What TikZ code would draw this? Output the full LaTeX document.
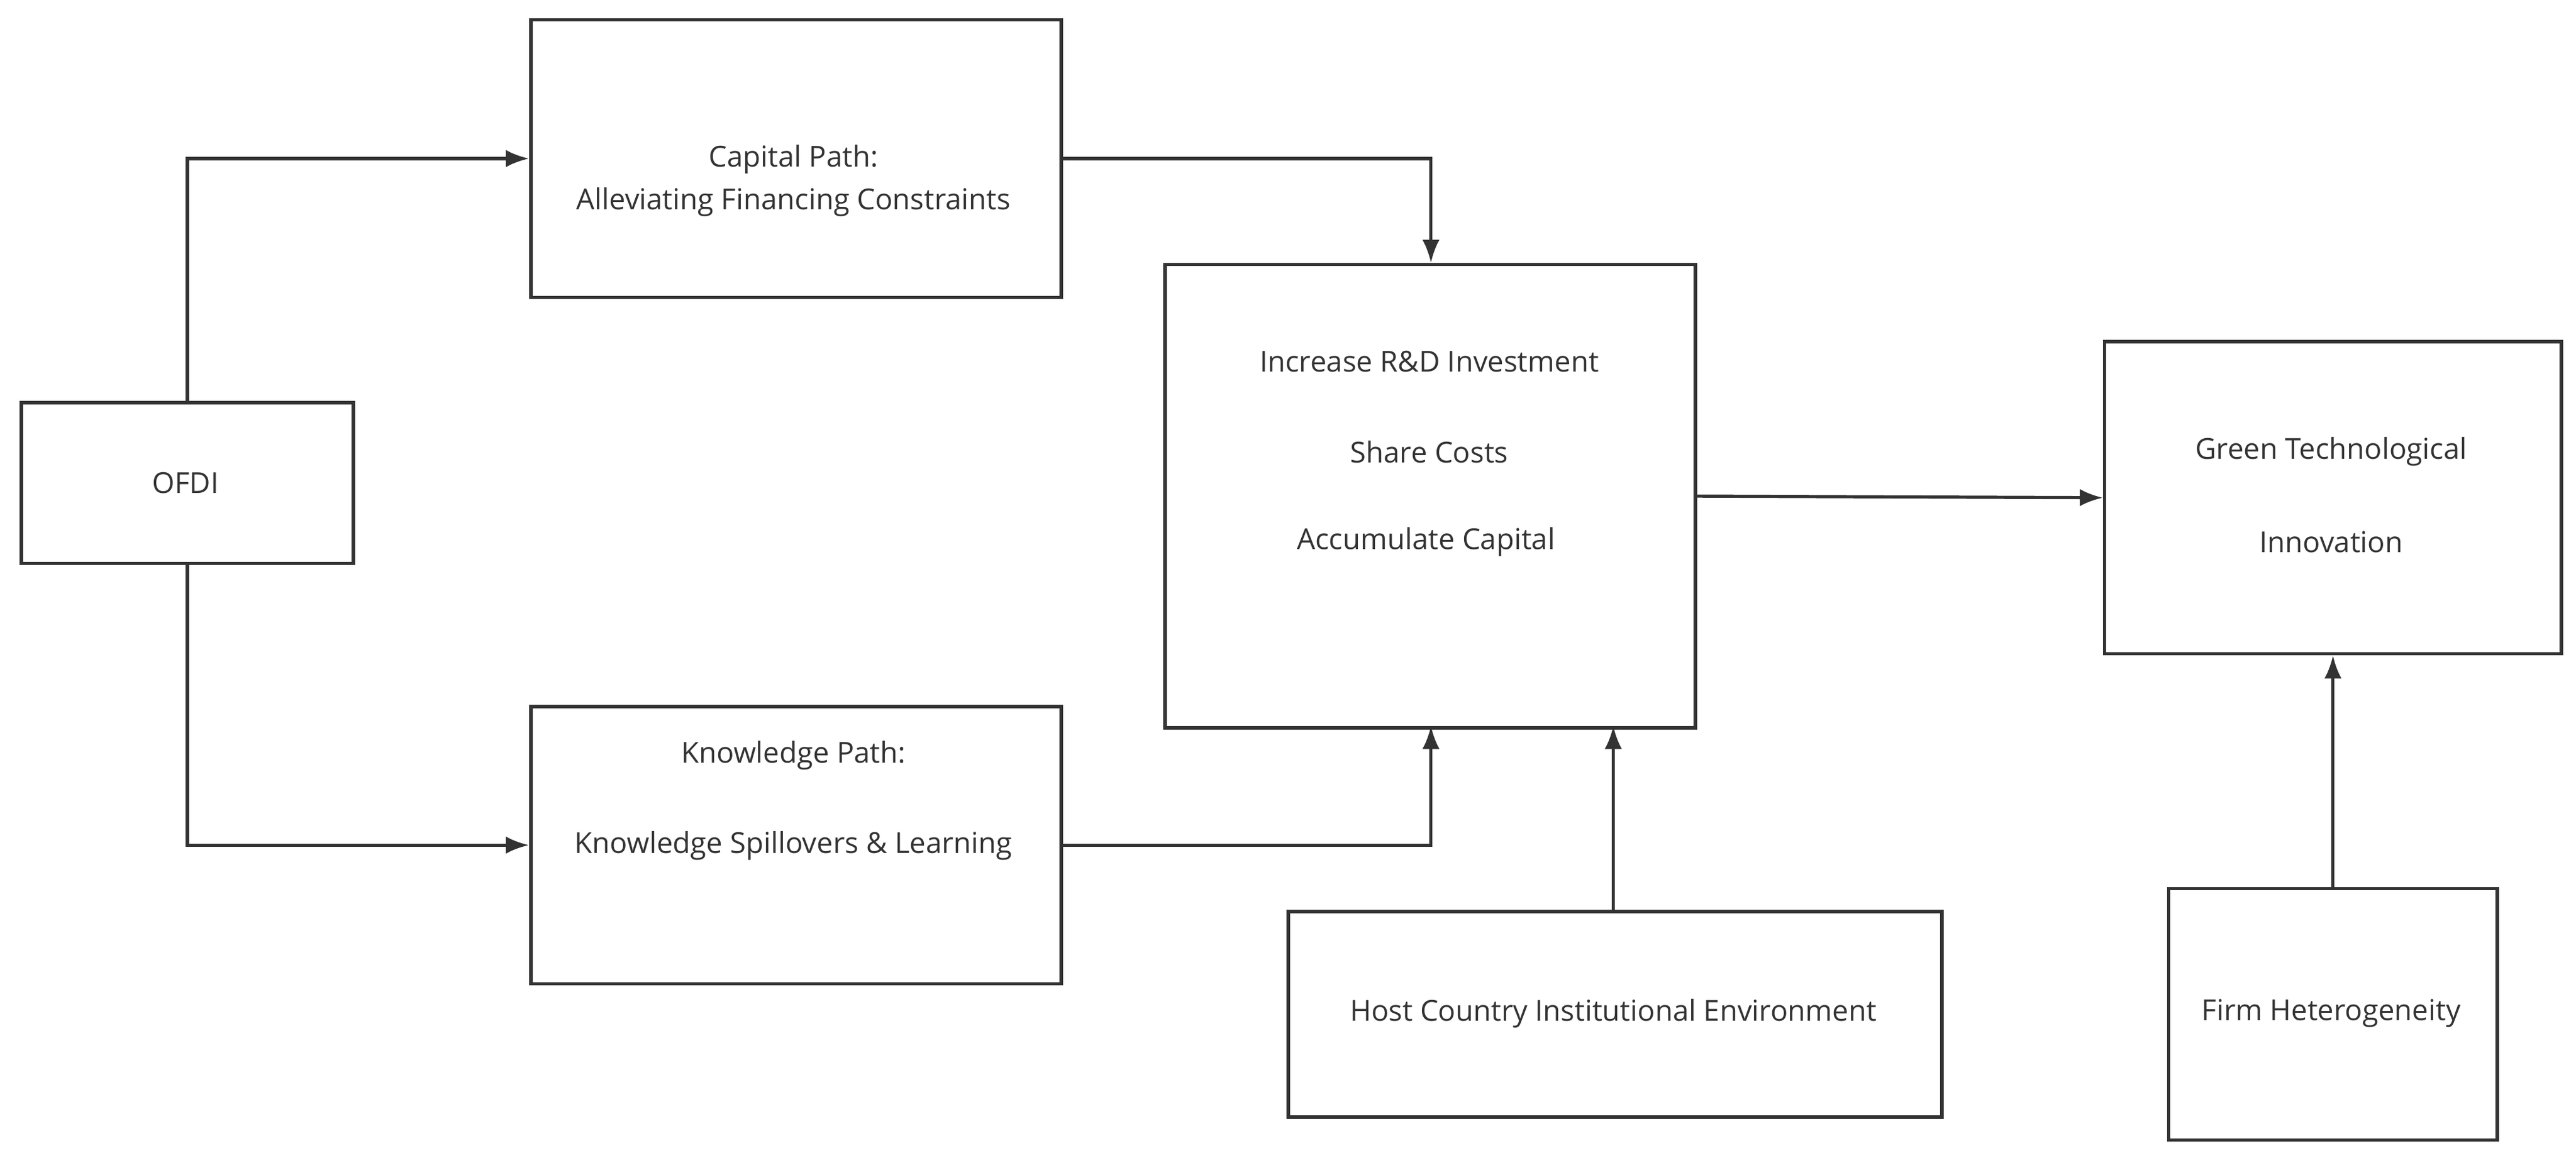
\documentclass[tikz,border=0pt]{standalone}
\usepackage{fontspec}
\setmainfont{Open Sans}
\usetikzlibrary{arrows.meta}
\definecolor{ink}{HTML}{333333}
\begin{document}
\begin{tikzpicture}[x=0.02cm,y=-0.02cm,
  box/.style={draw=ink,line width=1.2pt,inner sep=0pt,anchor=north west},
  txt/.style={text=ink,font=\fontsize{10}{12}\selectfont},
  arr/.style={draw=ink,line width=1.1pt,-{Latex[length=8pt,width=6pt]}}]
\useasboundingbox (0,0) rectangle (1568,705);
\node[box,minimum width=202*0.02cm,minimum height=98*0.02cm] (ofdi) at (12,244) {};
\node[box,minimum width=323*0.02cm,minimum height=169*0.02cm] (cap) at (322,11) {};
\node[box,minimum width=323*0.02cm,minimum height=169*0.02cm] (know) at (322,429) {};
\node[box,minimum width=323*0.02cm,minimum height=282*0.02cm] (mid) at (708,160) {};
\node[box,minimum width=278*0.02cm,minimum height=190*0.02cm] (green) at (1280,207) {};
\node[box,minimum width=398*0.02cm,minimum height=125*0.02cm] (host) at (783,554) {};
\node[box,minimum width=200*0.02cm,minimum height=153*0.02cm] (firm) at (1319,540) {};
\node[txt] (t1) at (113,294) {OFDI};
\node[txt] (t2) at (483,97) {Capital Path:};
\node[txt] (t3) at (483,123) {Alleviating Financing Constraints};
\node[txt] (t4) at (483,460) {Knowledge Path:};
\node[txt] (t5) at (483,515) {Knowledge Spillovers \& Learning};
\node[txt] (t6) at (870,220) {Increase R\&D Investment};
\node[txt] (t7) at (870,275) {Share Costs};
\node[txt] (t8) at (868,330) {Accumulate Capital};
\node[txt] (t9) at (1419,275) {Green Technological};
\node[txt] (t10) at (1419,330) {Innovation};
\node[txt] (t11) at (982,617) {Host Country Institutional Environment};
\node[txt] (t12) at (1419,617) {Firm Heterogeneity};
\draw[arr] (ofdi.north) |- (cap.west);
\draw[arr] (ofdi.south) |- (know.west);
\draw[arr] (cap.east) -| (871,160);
\draw[arr] (know.east) -| (871,442);
\draw[arr] (mid.east) -- (green.west);
\draw[arr] (982,554) -- (982,442);
\draw[arr] (firm.north) -- (green.south);
\end{tikzpicture}
\end{document}
